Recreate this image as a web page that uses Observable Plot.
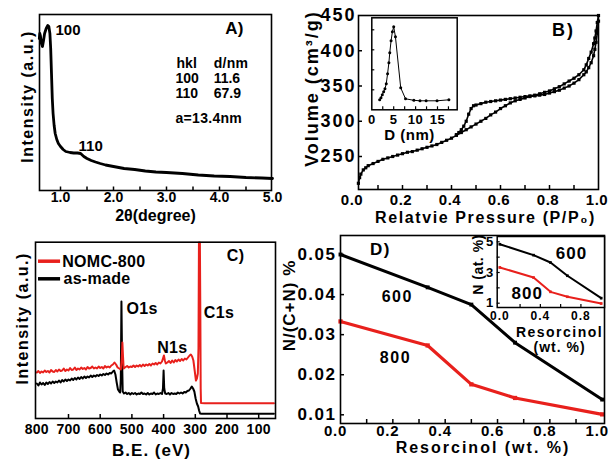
<!DOCTYPE html>
<html><head><meta charset="utf-8">
<script src="https://cdn.jsdelivr.net/npm/d3@7"></script>
<script src="https://cdn.jsdelivr.net/npm/@observablehq/plot@0.6"></script>
<style>
html,body{margin:0;padding:0;background:#fff;}
#wrap{position:relative;width:608px;height:461px;overflow:hidden;background:#fff;}
#wrap svg{position:absolute;left:0;top:0;}
</style></head><body><div id="wrap"></div>
<script>
const W = 608, H = 461;
const FONT = "'Liberation Sans', Arial, Helvetica, sans-serif";
const RED = "#e8201c";

// ---------- Panel A : XRD pattern ----------
const xrdPattern = [
  [0.60,155],[0.61,160],[0.62,158],[0.64,150],[0.66,147],[0.68,153],[0.70,160],[0.73,165],
  [0.76,168],[0.78,167],[0.80,160],[0.815,145],[0.83,120],[0.845,95],[0.86,80],[0.88,68],
  [0.90,60],[0.93,54],[0.96,50],[1.00,47],[1.05,44],[1.10,42],[1.18,41],[1.25,40.5],
  [1.32,40.5],[1.38,40],[1.44,37],[1.50,35],[1.58,33],[1.66,31.5],[1.75,30],[1.85,28.5],
  [2.00,27],[2.2,25],[2.4,24],[2.6,22.5],[2.8,21.5],[3.0,21],[3.3,20],[3.6,18.5],
  [3.9,17.5],[4.2,17],[4.5,16],[4.8,15.5],[5.0,15]
];
const xrdTickLabels = [1, 2, 3, 4, 5];
const xrdMinorTicks = [1, 1.5, 2, 2.5, 3, 3.5, 4, 4.5];

// ---------- Panel B : N2 isotherm + PSD inset ----------
const adsorption = [
  [0.02,212],[0.025,220],[0.03,225],[0.04,231],[0.05,234],[0.06,237],[0.08,240],[0.1,243],
  [0.12,246],[0.14,248],[0.16,250],[0.18,252],[0.2,254],[0.22,256],[0.24,257],[0.26,259],
  [0.28,261],[0.3,263],[0.32,265],[0.34,267],[0.36,270],[0.38,273],[0.4,276],[0.42,280],
  [0.44,284],[0.46,288],[0.48,292],[0.5,296],[0.52,300],[0.54,304],[0.56,309],[0.58,313],
  [0.6,318],[0.62,322],[0.64,326],[0.66,329],[0.68,331],[0.7,333],[0.72,335],[0.74,336],
  [0.76,337],[0.78,338],[0.8,340],[0.82,342],[0.84,344],[0.86,347],[0.88,350],[0.9,354],
  [0.92,359],[0.94,366],[0.95,370],[0.96,376],[0.97,383],[0.98,393],[0.985,402],[0.99,412],
  [0.995,425],[1.0,442]
];
const desorption = [
  [1.0,450],[0.995,440],[0.99,428],[0.985,418],[0.98,410],[0.97,398],[0.96,389],[0.95,380],
  [0.94,373],[0.92,366],[0.9,361],[0.88,357],[0.86,353],[0.84,349],[0.82,346],[0.8,343],
  [0.78,341],[0.76,339],[0.74,337],[0.72,336],[0.7,335],[0.68,334],[0.66,333],[0.64,332],
  [0.62,331],[0.6,330],[0.58,329],[0.56,328],[0.54,327],[0.52,325],[0.5,323],[0.49,322],
  [0.48,318],[0.47,310],[0.46,300],[0.45,293],[0.44,288],[0.43,284],[0.42,281]
];
const poreSizeDist = [
  [1.8,10],[2.1,12],[2.4,15],[2.7,18],[3.0,21],[3.3,26],[3.6,36],[3.9,47],[4.1,57],
  [4.4,69],[4.7,78],[5.0,83],[5.4,73],[6.6,22],[7.7,11],[9.6,9.5],[11.0,9],[12.4,9],
  [14.9,9],[17.6,10]
];
const bPressureTicks = [0, 0.2, 0.4, 0.6, 0.8, 1.0];
const bPressureMinor = [0.1, 0.2, 0.3, 0.4, 0.5, 0.6, 0.7, 0.8, 0.9];
const bVolumeTicks = [250, 300, 350, 400, 450];
const psdTicks = [0, 5, 10, 15];
const psdMinor = [2.5, 5, 7.5, 10, 12.5, 15, 17.5];
const psdYMinor = [20, 40, 60, 80];

// ---------- Panel C : XPS survey ----------
const xpsNOMC800 = [
  [800,46],[795,47.5],[790,45.5],[785,47],[780,46],[775,48],[770,46.5],[765,47.5],[760,46],
  [755,48.5],[750,47],[745,46.5],[740,48.5],[735,47],[730,49],[725,47.5],[720,48],[715,50],
  [710,47.5],[705,49],[700,48],[695,50.5],[690,48.5],[685,49],[680,51],[675,48.5],[670,50],
  [665,49],[660,51],[655,49.5],[650,50.5],[645,49],[640,51.5],[635,50],[630,50.5],[625,52],
  [620,50],[615,51],[610,50],[605,52],[600,50.5],[595,51.5],[590,50],[585,52.5],[580,51],
  [575,52],[570,51],[565,53],[560,54],[555,56],[550,54],[545,51],[540,50],[535,49],[532,60],
  [530,76],[528,62],[526,50],[522,51],[515,52.5],[510,51],[505,52],[500,51.5],[495,53],
  [490,51.5],[485,53],[480,52],[475,53.5],[470,52],[465,54],[460,52.5],[455,54],[450,53],
  [445,54.5],[440,53],[435,55],[430,54],[425,55.5],[420,54],[415,56],[410,55],[405,57],
  [402,60],[399,63],[396,58],[393,55],[388,56],[383,57.5],[378,55.5],[373,58],[368,56],
  [363,58.5],[358,57],[353,59],[348,57.5],[343,59.5],[338,58],[333,60],[328,59],[323,61],
  [318,63],[314,64],[310,62],[306,58],[302,48],[298,38],[295,40],[292,45],[290,70],
  [288.5,176],[285.5,176],[284,100],[283,30],[282,15.5],[270,15.3],[200,15.3],[100,15.3],[52,15.3]
];
const xpsAsMade = [
  [800,35],[795,33],[790,36],[785,34],[780,35.5],[775,33.5],[770,36],[765,34.5],[760,36.5],
  [755,35],[750,37],[745,35.5],[740,37],[735,36],[730,38],[725,36],[720,38.5],[715,37],
  [710,39],[705,37.5],[700,39],[695,38],[690,40],[685,38.5],[680,40.5],[675,39],[670,41],
  [665,39.5],[660,41.5],[655,40],[650,42],[645,40.5],[640,42],[635,41],[630,43],[625,41.5],
  [620,43],[615,42],[610,43.5],[605,42.5],[600,44],[595,43],[590,44.5],[585,43.5],[580,45],
  [575,44],[570,45.5],[565,45],[560,47],[556,48],[552,44],[548,36],[544,29],[540,27],
  [537,26],[535,40],[533,117],[531,60],[529,27],[525,25],[520,26],[515,24.5],[510,25.5],
  [505,24],[500,25.5],[495,24.5],[490,25.5],[485,24],[480,25],[475,24.5],[470,26],[465,24.5],
  [460,25],[455,24],[450,25.5],[445,24],[440,25],[435,24.5],[430,26],[425,24],[420,25],
  [415,24.5],[410,25.5],[405,24.5],[402,30],[400,48],[398,30],[395,25],[390,24.5],[385,25.5],
  [380,24],[375,25.5],[370,24.5],[365,25],[360,24.5],[355,26],[350,25],[345,26],[340,25],
  [335,26.5],[330,26],[325,27.5],[320,28],[315,30],[311,32],[307,30],[303,27],[299,20],
  [295,15],[291,12],[288,8],[285,5],[280,4.7],[200,4.7],[100,4.7],[52,4.7]
];
const beTicks = [800, 700, 600, 500, 400, 300, 200, 100];
const beMinor = [700, 600, 500, 400, 300, 200, 100];

// ---------- Panel D : nitrogen content ----------
const resorcinol = [0, 0.333, 0.5, 0.667, 1.0];
const ratio600 = [0.0500, 0.0418, 0.0375, 0.0280, 0.0138];
const ratio800 = [0.0333, 0.0273, 0.0176, 0.0142, 0.0101];
const nAt600 = [4.84, 4.13, 3.65, 2.79, 1.33];
const nAt800 = [3.33, 2.67, 1.74, 1.42, 0.98];
const dXTicks = [0, 0.2, 0.4, 0.6, 0.8, 1.0];
const dXMinor = [0.1, 0.2, 0.3, 0.4, 0.5, 0.6, 0.7, 0.8, 0.9];
const dYTicks = [0.01, 0.02, 0.03, 0.04, 0.05];
const insetXTicks = [0, 0.4, 0.8];
const insetXMinor = [0.2, 0.4, 0.6, 0.8];
const insetYTicks = [1, 3, 5];
const insetYMinor = [1, 2, 3, 4, 5];

// ---------- helpers ----------
const base = {
  width: W, height: H,
  style: {background: "transparent", overflow: "visible", fontFamily: FONT, fontWeight: "bold", color: "#000"}
};
const wrap = document.getElementById("wrap");
function mount(svg, def = "0px", spacing = {}) {
  d3.select(svg).selectAll("text").each(function () {
    const t = this.textContent;
    this.style.letterSpacing = (t in spacing) ? spacing[t] : def;
  });
  wrap.appendChild(svg);
}
const pairs = (xs, ys) => xs.map((x, i) => [x, ys[i]]);
const X = d => d[0], Y = d => d[1];
// centred title placed relative to a side of the frame
const title = (s, o) => Plot.text([s], {text: d => d, textAnchor: "middle", lineAnchor: "middle", ...o});

// ---------- A ----------
{
  const fh = 190 - 14;
  const svg = Plot.plot({...base,
    marginLeft: 39, marginTop: 14, marginRight: W - 271, marginBottom: H - 190,
    x: {domain: [1, 5], range: [60, 272]},
    y: {domain: [0, 179], range: [193, 14], axis: null},
    marks: [
      Plot.ruleX(xrdMinorTicks, {x: d => d, insetTop: fh - 3.5, stroke: "#000", strokeWidth: 1.5}),
      Plot.axisX({ticks: xrdTickLabels, tickFormat: d3.format(".1f"), tickSize: 0, tickPadding: 2, fontSize: 14, label: null}),
      Plot.line(xrdPattern, {x: X, y: Y, stroke: "#000", strokeWidth: 2.8}),
      Plot.frame({stroke: "#000", strokeWidth: 1.6}),
      Plot.text(["100"], {x: [0.906], y: [163], text: d => d, textAnchor: "start", fontSize: 15}),
      Plot.text(["110"], {x: [1.34], y: [47], text: d => d, textAnchor: "start", fontSize: 15}),
      Plot.text(["A)"], {x: [4.28], y: [164.5], text: d => d, fontSize: 17}),
      Plot.text(["hkl", "100", "110", "a=13.4nm"], {x: [3.19, 3.17, 3.17, 3.17], y: [129.5, 114.5, 99.5, 75], text: d => d, textAnchor: "start", fontSize: 14}),
      Plot.text(["d/nm", "11.6", "67.9"], {x: [3.89, 3.89, 3.89], y: [129.5, 114.5, 99.5], text: d => d, textAnchor: "start", fontSize: 14}),
      title("2θ(degree)", {frameAnchor: "bottom", dy: 25, fontSize: 16}),
      title("Intensity (a.u.)", {frameAnchor: "left", dx: -12, dy: -6, rotate: -90, fontSize: 16})
    ]
  });
  mount(svg, "0px", {"Intensity (a.u.)": "1.5px", "a=13.4nm": "0.3px", "d/nm": "0.3px"});
}

// ---------- B ----------
{
  const fh = 189 - 15, fw = 598 - 358;
  const svg = Plot.plot({...base,
    marginLeft: 358, marginTop: 15, marginRight: W - 598, marginBottom: H - 189,
    x: {domain: [0, 1], range: [353, 598]},
    y: {domain: [250, 450], range: [156, 15]},
    marks: [
      Plot.ruleX(bPressureMinor, {x: d => d, insetTop: fh - 4, stroke: "#000", strokeWidth: 1.5}),
      Plot.ruleY(bVolumeTicks.slice(0, 4), {y: d => d, insetRight: fw - 4, stroke: "#000", strokeWidth: 1.5}),
      Plot.axisX({ticks: bPressureTicks, tickFormat: d3.format(".1f"), tickSize: 0, tickPadding: 5, dx: -1.5, fontSize: 15, label: null}),
      Plot.axisY({ticks: bVolumeTicks, tickFormat: d3.format("d"), tickSize: 0, tickPadding: 2, fontSize: 18, label: null}),
      Plot.line(adsorption, {x: X, y: Y, stroke: "#000", strokeWidth: 1.6}),
      Plot.line(desorption, {x: X, y: Y, stroke: "#000", strokeWidth: 1.6}),
      Plot.dot(adsorption, {x: X, y: Y, symbol: "square", r: 1.8, fill: "#000"}),
      Plot.dot(desorption, {x: X, y: Y, symbol: "square", r: 1.8, fill: "#000"}),
      Plot.frame({stroke: "#000", strokeWidth: 1.6}),
      Plot.text(["B)"], {x: [0.857], y: [428.7], text: d => d, fontSize: 18}),
      title("Relatvie Pressure (P/P₀)", {frameAnchor: "bottom", dx: 7, dy: 28, fontSize: 16}),
      title("Volume (cm³/g)", {frameAnchor: "left", dx: -46, dy: -14, rotate: -90, fontSize: 18})
    ]
  });
  mount(svg, "2px", {"0.0": "0.5px", "0.2": "0.5px", "0.4": "0.5px", "0.6": "0.5px", "0.8": "0.5px", "1.0": "0.5px", "Relatvie Pressure (P/P₀)": "1.6px"});
}

// ---------- B inset ----------
{
  const fh = 109.3 - 17.3, fw = 456.7 - 371.3;
  const svg = Plot.plot({...base,
    marginLeft: 371.3, marginTop: 17.3, marginRight: W - 456.7, marginBottom: H - 109.3,
    x: {domain: [0, 15], range: [371.3, 437]},
    y: {domain: [0, 92], range: [109.3, 17.3], axis: null},
    marks: [
      Plot.frame({fill: "#fff", stroke: "#000", strokeWidth: 1.5}),
      Plot.ruleX(psdMinor, {x: d => d, insetTop: fh - 3, stroke: "#000", strokeWidth: 1.2}),
      Plot.ruleY(psdYMinor, {y: d => d, insetRight: fw - 3, stroke: "#000", strokeWidth: 1.2}),
      Plot.axisX({ticks: psdTicks, tickSize: 0, tickPadding: 5, fontSize: 13, label: null}),
      Plot.line(poreSizeDist, {x: X, y: Y, stroke: "#000", strokeWidth: 1}),
      Plot.dot(poreSizeDist, {x: X, y: Y, r: 1.5, fill: "#000"}),
      title("D (nm)", {frameAnchor: "bottom", dx: -5, dy: 25, fontSize: 15})
    ]
  });
  mount(svg, "0.5px");
}

// ---------- C ----------
{
  const fh = 418 - 241.7;
  const svg = Plot.plot({...base,
    marginLeft: 35, marginTop: 241.7, marginRight: W - 275, marginBottom: H - 418,
    x: {domain: [800, 100], range: [36.3, 258.2]},
    y: {domain: [0, 176.3], range: [418, 241.7], axis: null},
    marks: [
      Plot.ruleX(beMinor, {x: d => d, insetTop: fh - 4, stroke: "#000", strokeWidth: 1.5}),
      Plot.axisX({ticks: beTicks, tickSize: 0, tickPadding: 6, fontSize: 14, label: null}),
      Plot.line(xpsAsMade, {x: X, y: Y, stroke: "#000", strokeWidth: 2}),
      Plot.line(xpsNOMC800, {x: X, y: Y, stroke: RED, strokeWidth: 2}),
      Plot.frame({stroke: "#000", strokeWidth: 1.6}),
      Plot.ruleY([157.3], {y: d => d, x1: () => 794.6, x2: () => 725, stroke: RED, strokeWidth: 3.5}),
      Plot.ruleY([139.7], {y: d => d, x1: () => 794.6, x2: () => 725, stroke: "#000", strokeWidth: 3.5}),
      Plot.text(["NOMC-800", "as-made"], {x: [720, 716], y: [157, 139.7], text: d => d, textAnchor: "start", fontSize: 16}),
      Plot.text(["C)"], {x: [173], y: [162.5], text: d => d, fontSize: 16}),
      Plot.text(["O1s", "N1s", "C1s"], {x: [517, 420, 273], y: [109.5, 71, 106], text: d => d, textAnchor: "start", fontSize: 16}),
      title("B.E. (eV)", {frameAnchor: "bottom", dx: -4, dy: 32, fontSize: 17}),
      title("Intensity (a.u.)", {frameAnchor: "left", dx: -12.5, dy: -12, rotate: -90, fontSize: 16})
    ]
  });
  mount(svg, "0.3px", {"B.E. (eV)": "1px", "Intensity (a.u.)": "1.5px"});
}

// ---------- D ----------
{
  const fh = 423 - 235, fw = 604 - 340;
  const d600 = pairs(resorcinol, ratio600), d800 = pairs(resorcinol, ratio800);
  const svg = Plot.plot({...base,
    marginLeft: 340, marginTop: 235, marginRight: W - 604, marginBottom: H - 423,
    x: {domain: [0, 1], range: [340, 601.7]},
    y: {domain: [0.01, 0.05], range: [414.3, 254]},
    marks: [
      Plot.ruleX(dXMinor, {x: d => d, insetTop: fh - 4, stroke: "#000", strokeWidth: 1.5}),
      Plot.ruleY(dYTicks, {y: d => d, insetRight: fw - 4, stroke: "#000", strokeWidth: 1.5}),
      Plot.axisX({ticks: dXTicks, tickFormat: d3.format(".1f"), tickSize: 0, tickPadding: 2, dx: -5, fontSize: 15, label: null}),
      Plot.axisY({ticks: dYTicks, tickFormat: d3.format(".2f"), tickSize: 0, tickPadding: 4, fontSize: 17, label: null}),
      Plot.line(d600, {x: X, y: Y, stroke: "#000", strokeWidth: 3}),
      Plot.line(d800, {x: X, y: Y, stroke: RED, strokeWidth: 3.2}),
      Plot.dot(d600, {x: X, y: Y, symbol: "square", r: 2.2, fill: "#000"}),
      Plot.dot(d800, {x: X, y: Y, symbol: "square", r: 2.4, fill: RED}),
      Plot.frame({stroke: "#000", strokeWidth: 1.6}),
      Plot.text(["D)"], {x: [0.153], y: [0.05125], text: d => d, fontSize: 17}),
      Plot.text(["600", "800"], {x: [0.217, 0.21], y: [0.03934, 0.02417], text: d => d, fontSize: 16}),
      title("Resorcinol (wt. %)", {frameAnchor: "bottom", dx: 10.5, dy: 24, fontSize: 16}),
      title("N/(C+N) %", {frameAnchor: "left", dx: -51, dy: -24, rotate: -90, fontSize: 17})
    ]
  });
  mount(svg, "1.5px", {"0.0": "0.8px", "0.2": "0.8px", "0.4": "0.8px", "0.6": "0.8px", "0.8": "0.8px", "1.0": "0.8px", "Resorcinol (wt. %)": "2px", "N/(C+N) %": "1px"});
}

// ---------- D inset ----------
{
  const fh = 307 - 236, fw = 604 - 496.7;
  const i600 = pairs(resorcinol, nAt600), i800 = pairs(resorcinol, nAt800);
  const svg = Plot.plot({...base,
    marginLeft: 496.7, marginTop: 236, marginRight: W - 604, marginBottom: H - 307,
    x: {domain: [0, 1], range: [499.3, 600.7]},
    y: {domain: [1, 5], range: [302.7, 241.3]},
    marks: [
      Plot.frame({fill: "#fff", stroke: "#000", strokeWidth: 1.5}),
      Plot.ruleX(insetXMinor, {x: d => d, insetTop: fh - 3, stroke: "#000", strokeWidth: 1.2}),
      Plot.ruleY(insetYMinor, {y: d => d, insetRight: fw - 3, stroke: "#000", strokeWidth: 1.2}),
      Plot.axisX({ticks: insetXTicks, tickFormat: d3.format(".1f"), tickSize: 0, tickPadding: 4, fontSize: 12, label: null}),
      Plot.axisY({ticks: insetYTicks, tickFormat: d3.format("d"), tickSize: 0, tickPadding: 3, fontSize: 13, label: null}),
      Plot.line(i600, {x: X, y: Y, stroke: "#000", strokeWidth: 2}),
      Plot.line(i800, {x: X, y: Y, stroke: RED, strokeWidth: 2}),
      Plot.dot(i600, {x: X, y: Y, symbol: "square", r: 1.5, fill: "#000"}),
      Plot.dot(i800, {x: X, y: Y, symbol: "square", r: 1.5, fill: RED}),
      Plot.text(["600", "800"], {x: [0.707, 0.27], y: [4.24, 1.63], text: d => d, fontSize: 17}),
      title("Resorcinol", {frameAnchor: "bottom", dx: 8.7, dy: 25, fontSize: 14}),
      title("(wt. %)", {frameAnchor: "bottom", dx: 8.7, dy: 40, fontSize: 14}),
      title("N (at. %)", {frameAnchor: "left", dx: -19, dy: -7.5, rotate: -90, fontSize: 14})
    ]
  });
  mount(svg, "1px", {"Resorcinol": "1.5px", "N (at. %)": "0.5px"});
}
</script></body></html>
